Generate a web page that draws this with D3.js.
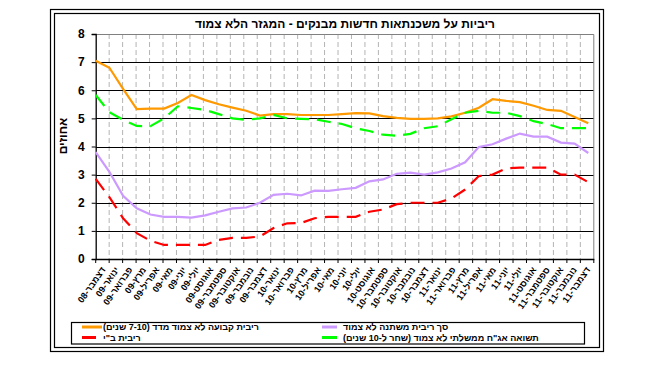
<!DOCTYPE html>
<html><head><meta charset="utf-8">
<script src="https://cdn.jsdelivr.net/npm/d3@7"></script>
<style>
body{margin:0;background:#fff;}
svg{display:block;font-family:"Liberation Sans",Arial,sans-serif;}
</style></head>
<body>
<svg id="c" width="658" height="374"></svg>
<script>
const title = "ריביות על משכנתאות חדשות מבנקים - המגזר הלא צמוד";
const yTitle = "אחוזים";
const categories = ["דצמבר-08",
 "ינואר-09","פברואר-09","מרץ-09","אפריל-09","מאי-09","יוני-09","יולי-09","אוגוסט-09","ספטמבר-09","אוקטובר-09","נובמבר-09","דצמבר-09",
 "ינואר-10","פברואר-10","מרץ-10","אפריל-10","מאי-10","יוני-10","יולי-10","אוגוסט-10","ספטמבר-10","אוקטובר-10","נובמבר-10","דצמבר-10",
 "ינואר-11","פברואר-11","מרץ-11","אפריל-11","מאי-11","יוני-11","יולי-11","אוגוסט-11","ספטמבר-11","אוקטובר-11","נובמבר-11","דצמבר-11"];
const yTicks = [0,1,2,3,4,5,6,7,8];

const fixedRate = [7.05,6.8,6.05,5.33,5.35,5.35,5.55,5.83,5.65,5.5,5.38,5.27,5.1,
 5.15,5.15,5.12,5.12,5.12,5.15,5.19,5.18,5.08,5.02,4.98,4.98,
 5.0,5.07,5.2,5.38,5.68,5.62,5.58,5.45,5.3,5.27,5.05,4.83];
const variableRate = [3.8,3.1,2.25,1.8,1.58,1.5,1.5,1.47,1.55,1.68,1.8,1.83,2.0,
 2.28,2.32,2.26,2.43,2.42,2.48,2.53,2.76,2.83,3.03,3.07,3.0,
 3.08,3.22,3.44,3.98,4.08,4.28,4.46,4.35,4.35,4.14,4.1,3.77];
const boiRate = [2.85,2.2,1.45,0.92,0.65,0.5,0.5,0.5,0.5,0.68,0.75,0.75,0.8,
 1.1,1.27,1.28,1.45,1.5,1.5,1.5,1.68,1.76,1.95,2.0,2.0,
 2.0,2.15,2.47,2.95,3.0,3.22,3.25,3.25,3.25,3.0,3.0,2.73];
const govYield = [5.83,5.22,4.95,4.73,4.72,5.0,5.43,5.37,5.3,5.15,5.0,4.95,5.0,
 5.12,5.0,4.98,4.97,4.88,4.8,4.65,4.55,4.42,4.38,4.45,4.65,
 4.72,4.97,5.2,5.27,5.2,5.2,5.08,4.9,4.8,4.65,4.65,4.65];

const seriesNames = ["ריבית קבועה לא צמוד מדד (7-10 שנים)","ריבית ב\"י","סך ריבית משתנה לא צמוד","תשואה אג\"ח ממשלתי לא צמוד (שחר ל-10 שנים)"];
const seriesColors = ["#FF9900","#FF0000","#CC99FF","#00FF00"];

const series = [
 {name:seriesNames[0], values:fixedRate, color:seriesColors[0], dash:null},
 {name:seriesNames[2], values:variableRate, color:seriesColors[2], dash:null},
 {name:seriesNames[3], values:govYield, color:seriesColors[3], dash:"14,8"},
 {name:seriesNames[1], values:boiRate, color:seriesColors[1], dash:"14,8"}
];

const svg = d3.select("#c");
const L = 95.7, R = 593.8, T = 34, B = 259;

// frames
svg.append("rect").attr("x",50.5).attr("y",9.5).attr("width",553).attr("height",342).attr("fill","none").attr("stroke","#000").attr("stroke-width",1.2);
svg.append("rect").attr("x",54.5).attr("y",13.5).attr("width",545).attr("height",334).attr("fill","none").attr("stroke","#000").attr("stroke-width",1.2);

const y = d3.scaleLinear().domain([0,8]).range([B,T]);
const xBand = d3.scaleBand().domain(categories).range([L,R]).padding(0);
const xPt = d3.scalePoint().domain(categories).range([L,588.3]);

// vertical dashed grid
svg.append("g").selectAll("line").data(categories.slice(1)).join("line")
 .attr("x1",d=>xBand(d)).attr("x2",d=>xBand(d)).attr("y1",T).attr("y2",B)
 .attr("stroke","#b4b4b4").attr("stroke-width",1).attr("stroke-dasharray","5,3");
// horizontal grid
svg.append("g").selectAll("line").data(yTicks.filter(v=>v>0&&v<8)).join("line")
 .attr("x1",L).attr("x2",R).attr("y1",d=>Math.round(y(d))+0.5).attr("y2",d=>Math.round(y(d))+0.5)
 .attr("stroke","#000").attr("stroke-width",1);
// plot border top/right
svg.append("path").attr("d",`M${L},${T+0.5}H${R}V${B}`).attr("fill","none").attr("stroke","#808080").attr("stroke-width",1);

// y axis
const yAxis = d3.axisLeft(y).tickValues(yTicks).tickSize(4).tickPadding(7).tickFormat(d3.format("d"));
const gy = svg.append("g").attr("transform",`translate(${L},0)`).call(yAxis);
gy.select(".domain").attr("stroke","#000").attr("stroke-width",1.3);
gy.selectAll("text").attr("font-size",12).attr("font-weight","bold").attr("fill","#000").attr("font-family","Liberation Sans, Arial, sans-serif");

// x axis
const xAxis = d3.axisBottom(xBand).tickSize(0).tickFormat("");
const gx = svg.append("g").attr("transform",`translate(0,${B})`).call(xAxis);
gx.select(".domain").attr("stroke","#000").attr("stroke-width",1.3);
gx.selectAll(".tick").remove();
gx.selectAll("line.tk").data(categories.concat(["__end"])).join("line").attr("class","tk")
 .attr("x1",(d,i)=> i<categories.length? xBand(d): R).attr("x2",(d,i)=> i<categories.length? xBand(d): R)
 .attr("y1",0).attr("y2",4).attr("stroke","#000").attr("stroke-width",1);
svg.append("g").selectAll("text").data(categories).join("text")
 .attr("transform",d=>`translate(${xBand(d)+xBand.bandwidth()/2+1},${B+9}) rotate(-55)`)
 .attr("text-anchor","end").attr("dy","0.35em")
 .attr("font-size",9).attr("font-weight","bold").attr("fill","#000")
 .text(d=>d);

// y title
svg.append("text").attr("transform","translate(67,136) rotate(-90)").attr("text-anchor","middle")
 .attr("font-size",12).attr("font-weight","bold").text(yTitle);
// title
svg.append("text").attr("x",345).attr("y",28).attr("text-anchor","middle").attr("direction","rtl")
 .attr("font-size",12).attr("font-weight","bold").text(title);

// lines
const line = d3.line().x((d,i)=>xPt(categories[i])).y(d=>y(d));
svg.append("g").selectAll("path").data(series).join("path")
 .attr("d",d=>line(d.values)).attr("fill","none").attr("stroke",d=>d.color)
 .attr("stroke-width",2.2).attr("stroke-dasharray",d=>d.dash);

// legend
svg.append("rect").attr("x",71.5).attr("y",322.5).attr("width",513).attr("height",21.5).attr("fill","none").attr("stroke","#000").attr("stroke-width",1.2);
const legendItems = [
 {name:seriesNames[0], color:seriesColors[0], x:82, y:327, w:20, tx:103},
 {name:seriesNames[1], color:seriesColors[1], x:82, y:337.5, w:14, tx:103},
 {name:seriesNames[2], color:seriesColors[2], x:322, y:327, w:15, tx:343},
 {name:seriesNames[3], color:seriesColors[3], x:322, y:337.5, w:15, tx:343}
];
const lg = svg.append("g");
legendItems.forEach(it=>{
 lg.append("line").attr("x1",it.x).attr("x2",it.x+it.w).attr("y1",it.y).attr("y2",it.y).attr("stroke",it.color).attr("stroke-width",3);
 const t = lg.append("text").attr("x",it.tx).attr("y",it.y+3.3).attr("direction","rtl").attr("text-anchor","start")
  .attr("font-size",9).attr("font-weight","bold").text(it.name);
 const bb = t.node().getBBox();
 t.attr("x", it.tx + (it.tx - bb.x));
});
</script>
</body></html>
